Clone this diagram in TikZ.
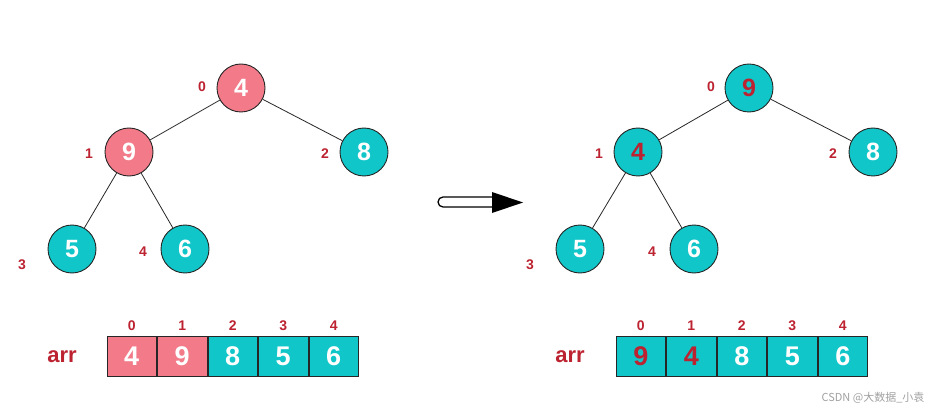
\documentclass[tikz,border=0pt]{standalone}
\usepackage{fontspec}
\setmainfont{Liberation Sans}
\newfontfamily\cjk{Noto Sans CJK SC}
\definecolor{hpink}{RGB}{242,122,137}
\definecolor{hteal}{RGB}{16,198,200}
\definecolor{hred}{RGB}{188,34,48}
\definecolor{wmgray}{RGB}{160,160,160}
\tikzset{
  hnode/.style={circle,draw=black!85,line width=0.9pt,minimum size=48pt,inner sep=0pt,font=\bfseries\fontsize{25}{25}\selectfont,text=white},
  pinkn/.style={hnode,fill=hpink},
  tealn/.style={hnode,fill=hteal},
  idx/.style={font=\bfseries\fontsize{14}{14}\selectfont,text=hred},
  cell/.style={draw=black!85,line width=0.9pt,minimum width=49.6pt,minimum height=40.5pt,inner sep=0pt,font=\bfseries\fontsize{27}{27}\selectfont,text=white,anchor=west},
  edge/.style={line width=0.8pt,black!85},
  arrlab/.style={font=\bfseries\fontsize{22}{22}\selectfont,text=hred}
}
\begin{document}
\begin{tikzpicture}[x=1pt,y=-1pt]
\useasboundingbox (0,0) rectangle (936,406);
% left tree
\node[pinkn] (a0) at (241,88) {4};
\node[pinkn] (a1) at (129,152) {9};
\node[tealn] (a2) at (364,152) {8};
\node[tealn] (a3) at (72,249) {5};
\node[tealn] (a4) at (185,249) {6};
\draw[edge] (a0) -- (a1);
\draw[edge] (a0) -- (a2);
\draw[edge] (a1) -- (a3);
\draw[edge] (a1) -- (a4);
\node[idx] (la0) at (202,87) {0};
\node[idx] (la1) at (89,154) {1};
\node[idx] (la2) at (325,154) {2};
\node[idx] (la3) at (22,265) {3};
\node[idx] (la4) at (143,252) {4};
% right tree
\node[tealn,text=hred] (b0) at (749,88) {9};
\node[tealn,text=hred] (b1) at (638,152) {4};
\node[tealn] (b2) at (873,152) {8};
\node[tealn] (b3) at (580,249) {5};
\node[tealn] (b4) at (694,249) {6};
\draw[edge] (b0) -- (b1);
\draw[edge] (b0) -- (b2);
\draw[edge] (b1) -- (b3);
\draw[edge] (b1) -- (b4);
\node[idx] (lb0) at (711,87) {0};
\node[idx] (lb1) at (599,154) {1};
\node[idx] (lb2) at (833,154) {2};
\node[idx] (lb3) at (530,265) {3};
\node[idx] (lb4) at (652,252) {4};
% big arrow
\draw[line width=1.3pt,fill=white,rounded corners=5pt] (493,197) -- (438,197) -- (438,207) -- (493,207);
\fill[black] (492,192) -- (523,202.5) -- (492,213) -- cycle;
% left array
\node[arrlab] (arrL) at (62,357) {arr};
\node[cell,fill=hpink] (c0) at (106.5,356.5) {4};
\node[cell,fill=hpink] (c1) at (c0.east) {9};
\node[cell,fill=hteal] (c2) at (c1.east) {8};
\node[cell,fill=hteal] (c3) at (c2.east) {5};
\node[cell,fill=hteal] (c4) at (c3.east) {6};
\foreach \i in {0,...,4} {\node[idx] (ic\i) at ([yshift=10pt]c\i.north) {\i};}
% right array
\node[arrlab] (arrR) at (570,357) {arr};
\node[cell,fill=hteal,text=hred] (d0) at (615.5,356.5) {9};
\node[cell,fill=hteal,text=hred] (d1) at (d0.east) {4};
\node[cell,fill=hteal] (d2) at (d1.east) {8};
\node[cell,fill=hteal] (d3) at (d2.east) {5};
\node[cell,fill=hteal] (d4) at (d3.east) {6};
\foreach \i in {0,...,4} {\node[idx] (id\i) at ([yshift=10pt]d\i.north) {\i};}
% watermark
\node[text=wmgray,font=\cjk\fontsize{11}{11}\selectfont] (wm) at (873,398) {CSDN @大数据\_小袁};
\end{tikzpicture}
\end{document}
